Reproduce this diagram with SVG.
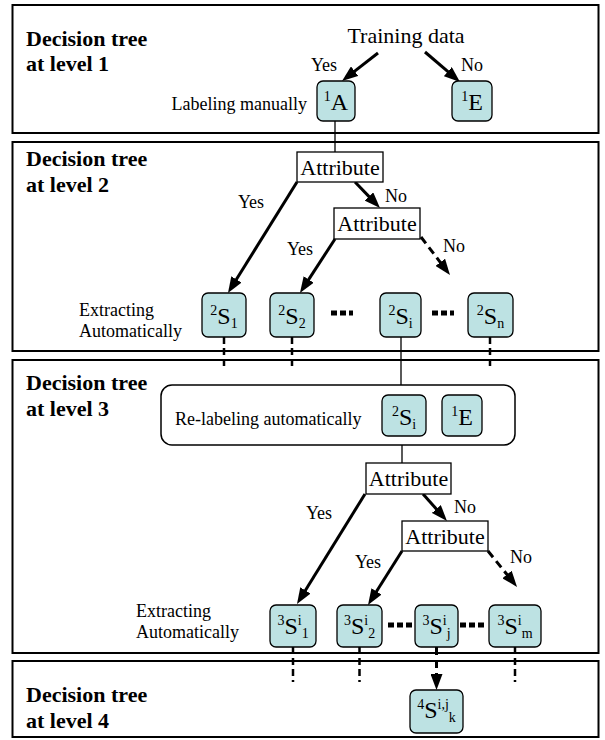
<svg xmlns="http://www.w3.org/2000/svg" width="605" height="740" viewBox="0 0 605 740">
  <style>
    .panel { fill: #ffffff; stroke: #000000; stroke-width: 2; }
    .title { font-family: "Liberation Serif", "Times New Roman", serif; font-weight: bold; font-size: 22px; fill: #000; }
    .lbl { font-family: "Liberation Serif", "Times New Roman", serif; font-size: 18px; fill: #000; }
    .big { font-family: "Liberation Serif", "Times New Roman", serif; font-size: 22px; fill: #000; }
    .sym { font-family: "Liberation Serif", "Times New Roman", serif; font-size: 24px; fill: #000; }
    .set { fill: #bde2e3; stroke: #000; stroke-width: 1.3; }
    .attr { fill: #ffffff; stroke: #000; stroke-width: 1.3; }
    .group { fill: #ffffff; stroke: #000; stroke-width: 1.5; }
    .arrow { stroke: #000; stroke-width: 3; fill: none; marker-end: url(#head); }
    .darrow { stroke: #000; stroke-width: 3; fill: none; stroke-dasharray: 8 5; marker-end: url(#head); }
    .link { stroke: #000; stroke-width: 1.3; fill: none; }
    .dlink { stroke: #000; stroke-width: 2.5; fill: none; stroke-dasharray: 7 4; }
    .dots { stroke: #000; stroke-width: 5; fill: none; stroke-dasharray: 6 3; }
    .sm { font-size: 14px; }
  </style>
  <defs>
    <marker id="head" viewBox="0 0 16 12" markerWidth="16" markerHeight="12" refX="4" refY="6" orient="auto" markerUnits="userSpaceOnUse">
      <path d="M0,0 L16,6 L0,12 z" fill="#000"/>
    </marker>
  </defs>

  <!-- level panels -->
  <g id="panel-1">
    <rect class="panel" x="12.5" y="5" width="586" height="128"/>
    <text class="title" x="26" y="46">Decision tree</text>
    <text class="title" x="26" y="71">at level 1</text>
  </g>
  <g id="panel-2">
    <rect class="panel" x="12.5" y="142" width="586" height="209"/>
    <text class="title" x="26" y="166">Decision tree</text>
    <text class="title" x="26" y="192">at level 2</text>
    <text class="lbl" x="79" y="316">Extracting</text>
    <text class="lbl" x="79" y="337">Automatically</text>
  </g>
  <g id="panel-3">
    <rect class="panel" x="12.5" y="360" width="586" height="293"/>
    <text class="title" x="26" y="390">Decision tree</text>
    <text class="title" x="26" y="416">at level 3</text>
    <text class="lbl" x="136" y="617">Extracting</text>
    <text class="lbl" x="136" y="638">Automatically</text>
  </g>
  <g id="panel-4">
    <rect class="panel" x="12.5" y="661" width="586" height="76"/>
    <text class="title" x="26" y="702">Decision tree</text>
    <text class="title" x="26" y="728">at level 4</text>
  </g>

  <!-- connectors -->
  <g id="connectors">
    <!-- level 1 -->
    <line class="arrow" x1="378" y1="53" x2="351.5" y2="73.6"/>
    <line class="arrow" x1="425" y1="52" x2="450.9" y2="74.2"/>
    <line class="link" x1="335" y1="121" x2="335" y2="152"/>
    <!-- level 2 -->
    <line class="arrow" x1="297" y1="182" x2="234.3" y2="282.8"/>
    <line class="arrow" x1="355" y1="182" x2="371.7" y2="199.4"/>
    <line class="arrow" x1="335" y1="239" x2="306.5" y2="282.9"/>
    <line class="darrow" x1="421" y1="237" x2="442.7" y2="265.5"/>
    <line class="dlink" x1="224" y1="337" x2="224" y2="370"/>
    <line class="dlink" x1="292" y1="337" x2="292" y2="370"/>
    <line class="dlink" x1="490" y1="337" x2="490" y2="370"/>
    <line class="link" x1="401" y1="337" x2="401" y2="385"/>
    <!-- level 3 -->
    <line class="link" x1="402" y1="436" x2="402" y2="463"/>
    <line class="arrow" x1="365" y1="494" x2="303.3" y2="593.8"/>
    <line class="arrow" x1="423" y1="494" x2="439" y2="512"/>
    <line class="arrow" x1="402" y1="551" x2="374.4" y2="594.8"/>
    <line class="darrow" x1="488" y1="551" x2="509.5" y2="577.6"/>
    <line class="dlink" x1="293" y1="647" x2="293" y2="682"/>
    <line class="dlink" x1="359.5" y1="647" x2="359.5" y2="682"/>
    <line class="dlink" x1="515" y1="647" x2="515" y2="682"/>
    <!-- level 4 -->
    <line class="darrow" x1="436.5" y1="647" x2="436.5" y2="678"/>
    <!-- ellipses between sets -->
    <line class="dots" x1="331" y1="313" x2="353" y2="313"/>
    <line class="dots" x1="432" y1="313" x2="454" y2="313"/>
    <line class="dots" x1="388" y1="625" x2="412" y2="625"/>
    <line class="dots" x1="460" y1="625" x2="484" y2="625"/>
  </g>

  <!-- level 1 nodes -->
  <g id="training-data">
    <text class="big" x="406" y="43" text-anchor="middle">Training data</text>
  </g>
  <g id="label-yes-1"><text class="lbl" x="324" y="71" text-anchor="middle">Yes</text></g>
  <g id="label-no-1"><text class="lbl" x="472" y="71" text-anchor="middle">No</text></g>
  <g id="labeling-manually"><text class="lbl" x="307" y="110" text-anchor="end">Labeling manually</text></g>
  <g id="node-1A">
    <rect class="set" x="317" y="81" width="38" height="40" rx="6"/>
    <text class="sym" x="336" y="110" text-anchor="middle"><tspan class="sm" dy="-9">1</tspan><tspan dy="9">A</tspan></text>
  </g>
  <g id="node-1E">
    <rect class="set" x="452" y="81" width="40" height="40" rx="6"/>
    <text class="sym" x="472" y="110" text-anchor="middle"><tspan class="sm" dy="-9">1</tspan><tspan dy="9">E</tspan></text>
  </g>

  <!-- level 2 nodes -->
  <g id="attr-2a">
    <rect class="attr" x="297" y="152" width="86" height="30"/>
    <text class="big" x="340" y="175" text-anchor="middle">Attribute</text>
  </g>
  <g id="label-yes-2a"><text class="lbl" x="251" y="208" text-anchor="middle">Yes</text></g>
  <g id="label-no-2a"><text class="lbl" x="396" y="202" text-anchor="middle">No</text></g>
  <g id="attr-2b">
    <rect class="attr" x="334" y="208" width="86" height="31"/>
    <text class="big" x="377" y="231" text-anchor="middle">Attribute</text>
  </g>
  <g id="label-yes-2b"><text class="lbl" x="300" y="255" text-anchor="middle">Yes</text></g>
  <g id="label-no-2b"><text class="lbl" x="454" y="252" text-anchor="middle">No</text></g>
  <g id="node-2S1">
    <rect class="set" x="202" y="293" width="44" height="44" rx="6"/>
    <text class="sym" x="224" y="324" text-anchor="middle"><tspan class="sm" dy="-9">2</tspan><tspan dy="9">S</tspan><tspan class="sm" dy="4">1</tspan></text>
  </g>
  <g id="node-2S2">
    <rect class="set" x="270" y="293" width="44" height="44" rx="6"/>
    <text class="sym" x="292" y="324" text-anchor="middle"><tspan class="sm" dy="-9">2</tspan><tspan dy="9">S</tspan><tspan class="sm" dy="4">2</tspan></text>
  </g>
  <g id="node-2Si">
    <rect class="set" x="380" y="293" width="41" height="44" rx="6"/>
    <text class="sym" x="400.5" y="324" text-anchor="middle"><tspan class="sm" dy="-9">2</tspan><tspan dy="9">S</tspan><tspan class="sm" dy="4">i</tspan></text>
  </g>
  <g id="node-2Sn">
    <rect class="set" x="468" y="293" width="45" height="44" rx="6"/>
    <text class="sym" x="490.5" y="324" text-anchor="middle"><tspan class="sm" dy="-9">2</tspan><tspan dy="9">S</tspan><tspan class="sm" dy="4">n</tspan></text>
  </g>

  <!-- level 3 nodes -->
  <g id="relabel-group">
    <rect class="group" x="161" y="385" width="354" height="60" rx="11"/>
    <text class="lbl" x="175" y="425">Re-labeling automatically</text>
  </g>
  <g id="node-2Si-relabel">
    <rect class="set" x="382" y="395" width="44" height="41" rx="6"/>
    <text class="sym" x="404" y="425" text-anchor="middle"><tspan class="sm" dy="-9">2</tspan><tspan dy="9">S</tspan><tspan class="sm" dy="4">i</tspan></text>
  </g>
  <g id="node-1E-relabel">
    <rect class="set" x="442" y="395" width="40" height="41" rx="6"/>
    <text class="sym" x="462" y="425" text-anchor="middle"><tspan class="sm" dy="-9">1</tspan><tspan dy="9">E</tspan></text>
  </g>
  <g id="attr-3a">
    <rect class="attr" x="366" y="463" width="85" height="31"/>
    <text class="big" x="408.5" y="486" text-anchor="middle">Attribute</text>
  </g>
  <g id="label-yes-3a"><text class="lbl" x="319" y="519" text-anchor="middle">Yes</text></g>
  <g id="label-no-3a"><text class="lbl" x="465" y="513" text-anchor="middle">No</text></g>
  <g id="attr-3b">
    <rect class="attr" x="402" y="521" width="86" height="30"/>
    <text class="big" x="445" y="544" text-anchor="middle">Attribute</text>
  </g>
  <g id="label-yes-3b"><text class="lbl" x="368" y="568" text-anchor="middle">Yes</text></g>
  <g id="label-no-3b"><text class="lbl" x="521" y="563" text-anchor="middle">No</text></g>
  <g id="node-3S1">
    <rect class="set" x="270" y="605" width="46" height="42" rx="6"/>
    <text class="sym" x="293" y="634" text-anchor="middle"><tspan class="sm" dy="-9">3</tspan><tspan dy="9">S</tspan><tspan class="sm" dy="-9">i</tspan><tspan class="sm" dy="13">1</tspan></text>
  </g>
  <g id="node-3S2">
    <rect class="set" x="337" y="605" width="45" height="42" rx="6"/>
    <text class="sym" x="359.5" y="634" text-anchor="middle"><tspan class="sm" dy="-9">3</tspan><tspan dy="9">S</tspan><tspan class="sm" dy="-9">i</tspan><tspan class="sm" dy="13">2</tspan></text>
  </g>
  <g id="node-3Sj">
    <rect class="set" x="415" y="605" width="43" height="42" rx="6"/>
    <text class="sym" x="436.5" y="634" text-anchor="middle"><tspan class="sm" dy="-9">3</tspan><tspan dy="9">S</tspan><tspan class="sm" dy="-9">i</tspan><tspan class="sm" dy="13">j</tspan></text>
  </g>
  <g id="node-3Sm">
    <rect class="set" x="489" y="605" width="52" height="42" rx="6"/>
    <text class="sym" x="515" y="634" text-anchor="middle"><tspan class="sm" dy="-9">3</tspan><tspan dy="9">S</tspan><tspan class="sm" dy="-9">i</tspan><tspan class="sm" dy="13">m</tspan></text>
  </g>

  <!-- level 4 node -->
  <g id="node-4S">
    <rect class="set" x="410" y="690" width="53" height="43" rx="6"/>
    <text class="sym" x="436.5" y="718" text-anchor="middle"><tspan class="sm" dy="-9">4</tspan><tspan dy="9">S</tspan><tspan class="sm" dy="-9">i,j</tspan><tspan class="sm" dy="13">k</tspan></text>
  </g>
</svg>
